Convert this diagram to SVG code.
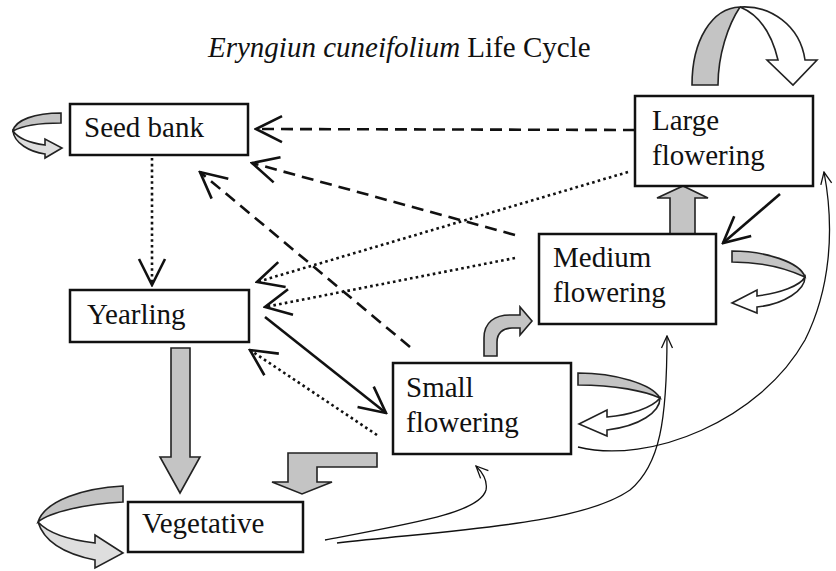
<svg xmlns="http://www.w3.org/2000/svg" width="836" height="571" viewBox="0 0 836 571">
<style>
.box{fill:#fff;stroke:#111;stroke-width:2.5}
.lbl{font-family:"Liberation Serif","Times New Roman",serif;font-size:29px;fill:#111}
.blk{fill:#c4c4c4;stroke:#222;stroke-width:1.6;stroke-linejoin:miter}
.wht{fill:#fff;stroke:#222;stroke-width:1.6}
.lt{fill:#dedede;stroke:#222;stroke-width:1.6}
.dash{fill:none;stroke:#111;stroke-width:2.6;stroke-dasharray:12 7}
.dot{fill:none;stroke:#111;stroke-width:2.6;stroke-dasharray:2.6 3.2}
.sol{fill:none;stroke:#111;stroke-width:2.6}
.thin{fill:none;stroke:#111;stroke-width:1.3}
</style>
<defs>
<marker id="v" markerUnits="userSpaceOnUse" viewBox="0 0 30 30" markerWidth="30" markerHeight="30" refX="28" refY="15" orient="auto">
<path d="M2,2 L28,15 L2,28" fill="none" stroke="#111" stroke-width="2.6" stroke-dasharray="none"/>
</marker>
<marker id="vs" markerUnits="userSpaceOnUse" viewBox="0 0 14 14" markerWidth="14" markerHeight="14" refX="13" refY="7" orient="auto">
<path d="M1,1.5 L13,7 L1,12.5" fill="none" stroke="#111" stroke-width="1.3"/>
</marker>
</defs>
<rect width="836" height="571" fill="#fff"/>
<text class="lbl" x="208" y="57"><tspan font-style="italic">Eryngiun cuneifolium</tspan> Life Cycle</text>

<g id="connectors">
<path class="dash" d="M635,130 L256,129" marker-end="url(#v)"/>
<path class="dash" d="M515,235 L252,163" marker-end="url(#v)"/>
<path class="dash" d="M410,347 L200,172" marker-end="url(#v)"/>
<path class="dot" d="M152,158 L152,285" marker-end="url(#v)"/>
<path class="dot" d="M628,172 L257,282" marker-end="url(#v)"/>
<path class="dot" d="M515,258 L265,307" marker-end="url(#v)"/>
<path class="sol" d="M265,317 L386,413" marker-end="url(#v)"/>
<path class="dot" d="M377,435 L250,350" marker-end="url(#v)"/>
<path class="sol" d="M780,194 L723,243" marker-end="url(#v)"/>
<path class="thin" d="M578,447 C650,465 760,420 805,340 C830,290 835,230 824,172" marker-end="url(#vs)"/>
<path class="thin" d="M337,543 C450,530 580,525 630,490 C660,465 667,420 667,336" marker-end="url(#vs)"/>
<path class="thin" d="M325,540 C420,522 480,512 486,490 C488,480 482,472 476,466" marker-end="url(#vs)"/>
<!-- block arrows -->
<path class="blk" d="M171,348 L190,348 L190,457 L200,457 L180,493 L160,457 L171,457 Z"/>
<path class="blk" d="M670,234 L670,198 L657,198 L683,186 L708,198 L695,198 L695,234 Z"/>
<path class="blk" d="M377,453 L288,453 L288,482 L272,482 L302,494 L332,482 L317,482 L317,467 L377,467 Z"/>
<path class="blk" d="M484,356 L484,338 C484,322 495,315 510,315 L520,315 L520,307 L532,321 L520,335 L520,328 L512,328 C503,328 497,333 497,342 L497,356 Z"/>
<!-- self loops -->
<path class="lt" d="M13,131 C14,143 30,152 45,154 L45,158 L62,148 L45,139 L45,145 C30,143 18,138 13,131 Z"/>
<path class="blk" d="M61,113 C35,113 15,120 13,131 C22,126 40,123 61,123 Z"/>
<path class="lt" d="M38,522 C45,545 70,555 95,560 L95,568 L123,553 L95,535 L95,543 C70,540 48,533 38,522 Z"/>
<path class="blk" d="M123,486 C85,488 45,500 38,522 C50,512 85,504 123,502 Z"/>
<path class="wht" d="M805,277 C805,290 785,304 757,307 L757,313 L732,303 L757,290 L757,296 C780,293 800,286 805,277 Z"/>
<path class="blk" d="M732,251 C765,251 800,262 805,277 C790,270 765,262 732,262 Z"/>
<path class="wht" d="M660,398 C660,412 640,426 607,430 L607,436 L579,424 L607,410 L607,417 C630,415 652,408 660,398 Z"/>
<path class="blk" d="M578,373 C615,373 652,384 660,398 C645,391 615,385 578,385 Z"/>
<path class="wht" d="M740,7 C770,5 800,25 805,60 L817,60 L793,85 L767,60 L778,60 C772,35 760,15 740,7 Z"/>
<path class="blk" d="M692,85 C692,40 712,8 740,7 C728,25 718,55 718,85 Z"/>
</g>

<g id="seed-bank">
<rect class="box" x="70" y="104" width="178" height="51"/>
<text class="lbl" x="84" y="137">Seed bank</text>
</g>
<g id="large-flowering">
<rect class="box" x="635" y="96" width="178" height="90"/>
<text class="lbl" x="652" y="130">Large</text>
<text class="lbl" x="652" y="165">flowering</text>
</g>
<g id="medium-flowering">
<rect class="box" x="539" y="234" width="177" height="90"/>
<text class="lbl" x="553" y="267">Medium</text>
<text class="lbl" x="553" y="302">flowering</text>
</g>
<g id="yearling">
<rect class="box" x="70" y="290" width="179" height="52"/>
<text class="lbl" x="87" y="324">Yearling</text>
</g>
<g id="small-flowering">
<rect class="box" x="393" y="363" width="178" height="91"/>
<text class="lbl" x="406" y="397">Small</text>
<text class="lbl" x="406" y="432">flowering</text>
</g>
<g id="vegetative">
<rect class="box" x="128" y="502" width="175" height="50"/>
<text class="lbl" x="142" y="533">Vegetative</text>
</g>
</svg>
